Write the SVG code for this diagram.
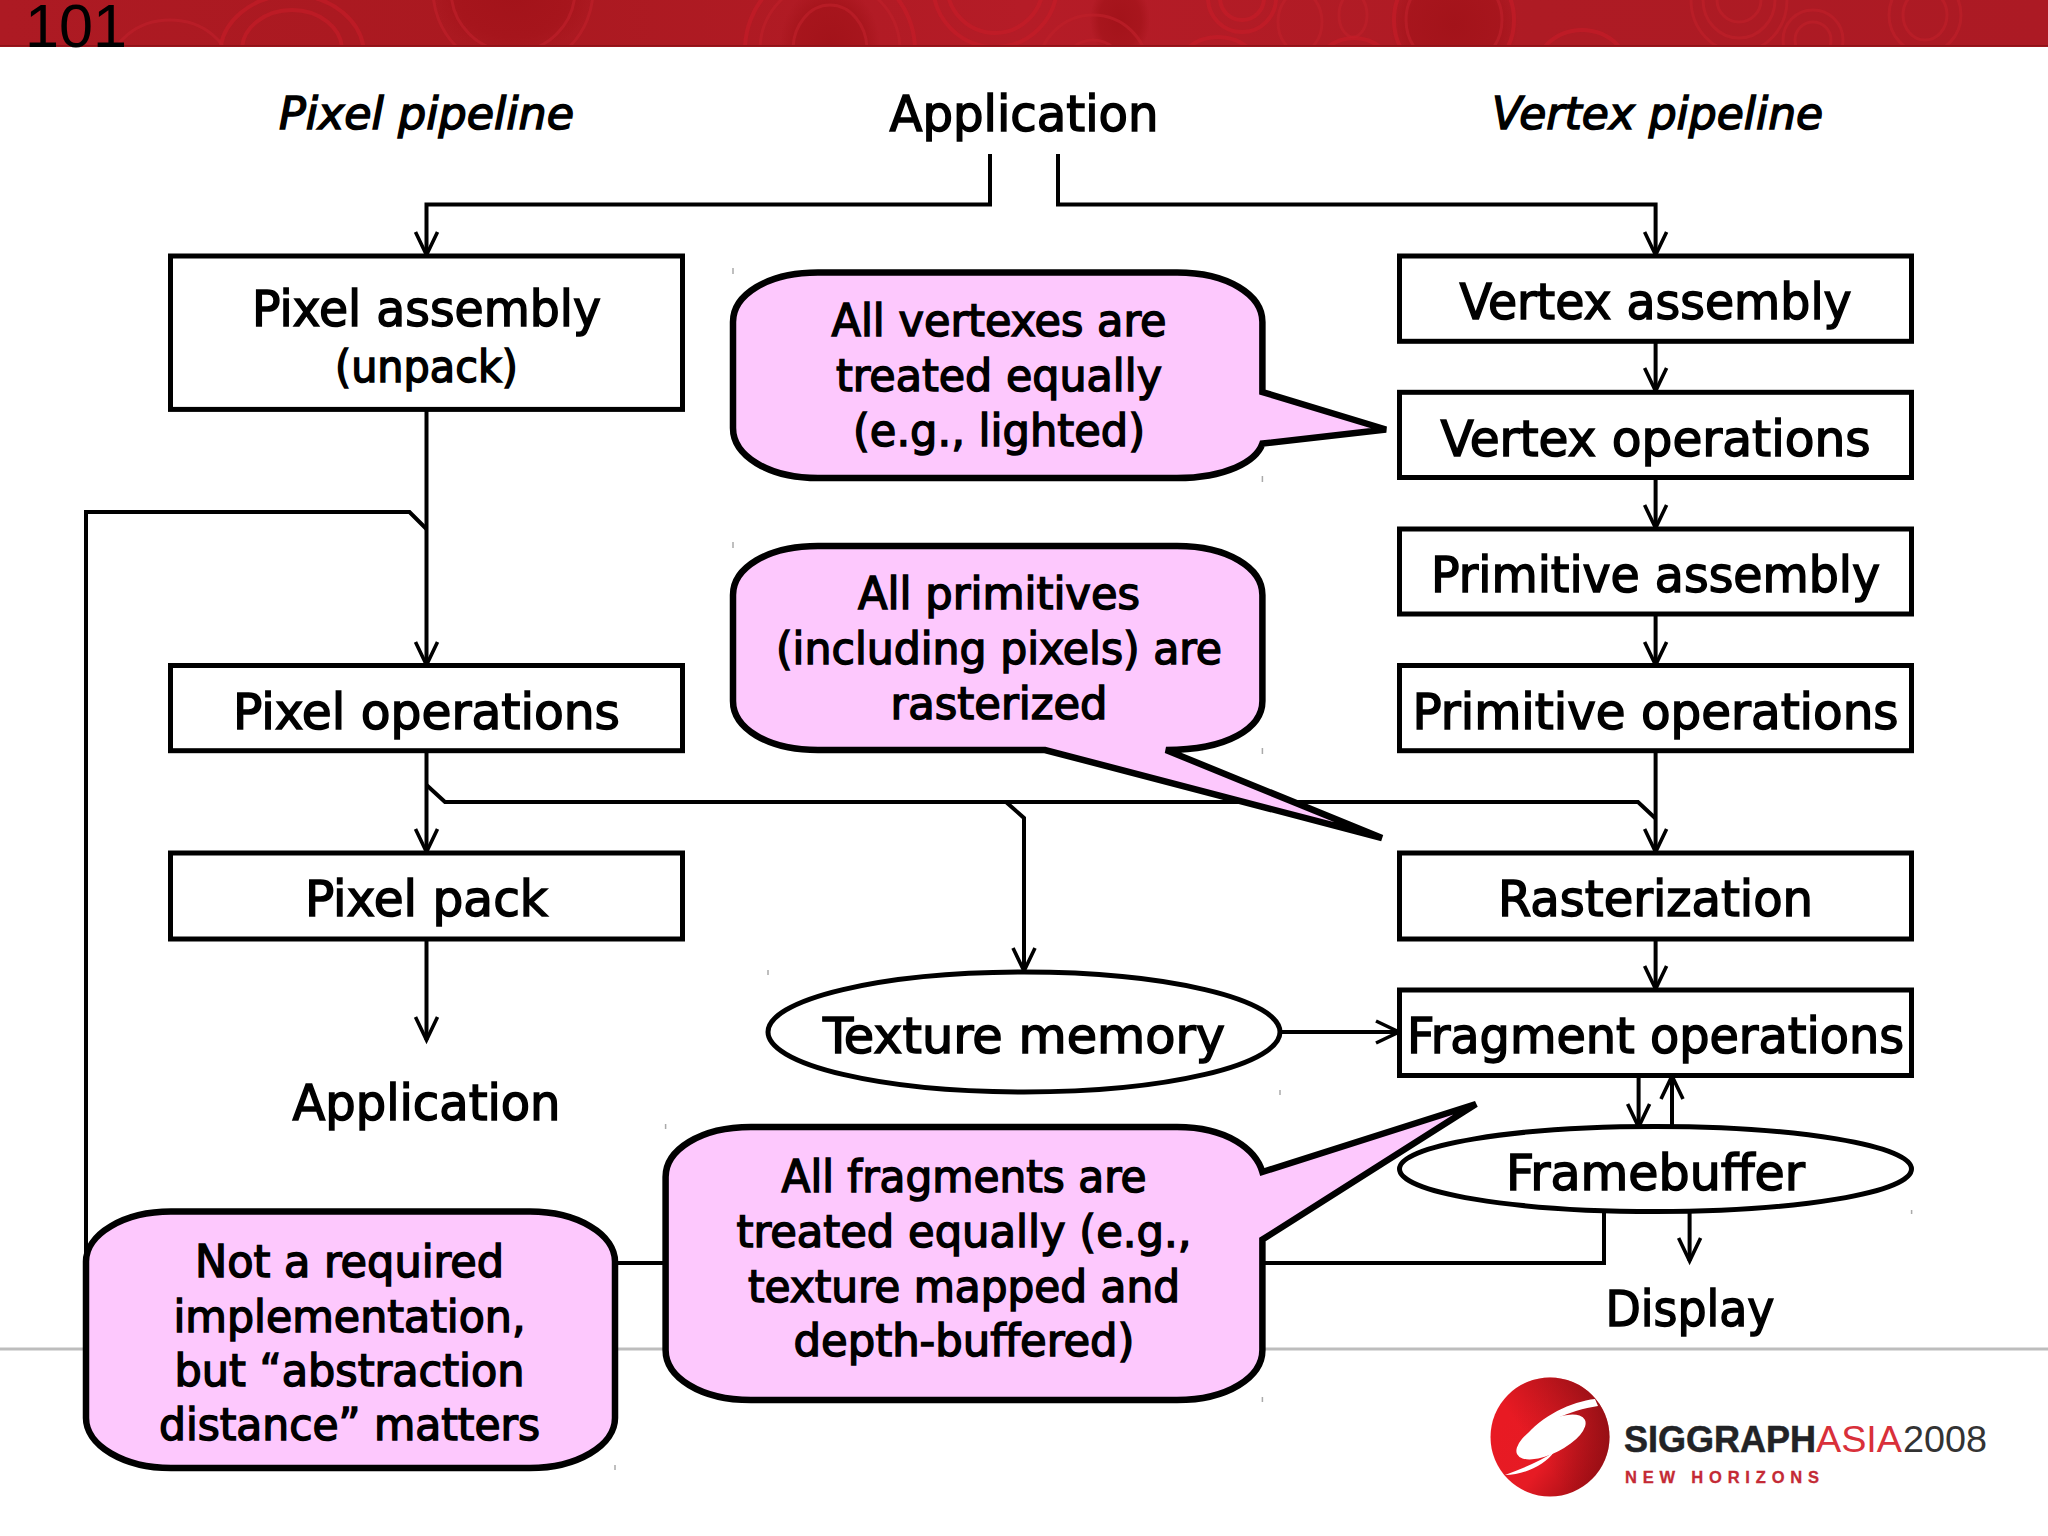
<svg xmlns="http://www.w3.org/2000/svg" width="2048" height="1536" viewBox="0 0 2048 1536">
<style>
text{font-family:"DejaVu Sans Condensed","DejaVu Sans",sans-serif;font-stretch:condensed;fill:#000;stroke:#000;stroke-width:1.4;text-anchor:middle}
.l{font-size:50px}.m{font-size:45px}.i{font-size:45px;font-style:italic}
.box{fill:#fff;stroke:#000;stroke-width:5}
.call{fill:#fdc8fd;stroke:#000;stroke-width:6.5;stroke-linejoin:miter}
.con{fill:none;stroke:#000;stroke-width:4;stroke-linejoin:miter}
.ring{fill:none;stroke:#c81c28;stroke-width:4;opacity:.6}
.ring2{fill:none;stroke:#bd1f29;stroke-width:3;opacity:.7}
.tick{stroke:#aaa;stroke-width:1.5}
.dk{fill:url(#dark)}
</style>
<defs>
<marker id="a" markerUnits="userSpaceOnUse" markerWidth="34" markerHeight="34" refX="26" refY="15" orient="auto"><path d="M3,4 L26,15 L3,26" fill="none" stroke="#000" stroke-width="3.6"/></marker>
<linearGradient id="band" x1="0" x2="1" y1="0" y2="0"><stop offset="0" stop-color="#ad1a23"/><stop offset=".25" stop-color="#aa1920"/><stop offset=".5" stop-color="#b51c27"/><stop offset=".75" stop-color="#ae1b24"/><stop offset="1" stop-color="#ac1a24"/></linearGradient>
<radialGradient id="dark"><stop offset="0" stop-color="#a3131a"/><stop offset=".7" stop-color="#a5141b" stop-opacity=".8"/><stop offset="1" stop-color="#a5141b" stop-opacity="0"/></radialGradient>
<linearGradient id="sph" x1=".15" y1=".3" x2=".85" y2=".85"><stop offset="0" stop-color="#e81a23"/><stop offset=".55" stop-color="#e61b24"/><stop offset="1" stop-color="#a90f16"/></linearGradient>
<linearGradient id="sph2" x1=".3" y1=".5" x2="1" y2="0"><stop offset="0" stop-color="#8f0f15" stop-opacity="0"/><stop offset="1" stop-color="#7a0c10" stop-opacity=".9"/></linearGradient>
<clipPath id="bc"><rect width="2048" height="46"/></clipPath>
</defs>
<g id="header">
<rect width="2048" height="47" fill="url(#band)"/>
<g clip-path="url(#bc)">
<ellipse class="dk" cx="513" cy="-5" rx="80" ry="60"/>
<ellipse class="dk" cx="830" cy="45" rx="50" ry="60"/>
<ellipse class="dk" cx="1454" cy="25" rx="65" ry="65"/>
<ellipse class="dk" cx="1120" cy="20" rx="30" ry="40"/>
<ellipse cx="292" cy="50" rx="50" ry="40" class="ring"/>
<ellipse cx="292" cy="55" rx="72" ry="60" class="ring"/>
<ellipse cx="170" cy="70" rx="60" ry="50" class="ring2"/>
<circle cx="513" cy="-10" r="62" class="ring2"/>
<circle cx="513" cy="-10" r="80" class="ring2"/>
<ellipse cx="830" cy="50" rx="37" ry="45" class="ring2"/>
<ellipse cx="830" cy="50" rx="70" ry="70" class="ring2"/>
<ellipse cx="830" cy="50" rx="85" ry="85" class="ring"/>
<circle cx="995" cy="-15" r="48" class="ring"/>
<circle cx="995" cy="-15" r="62" class="ring"/>
<circle cx="1093" cy="70" r="30" class="ring2"/>
<circle cx="1093" cy="70" r="55" class="ring2"/>
<circle cx="1242" cy="-2" r="22" class="ring"/>
<circle cx="1242" cy="-2" r="34" class="ring"/>
<ellipse cx="1300" cy="22" rx="22" ry="30" class="ring2"/>
<ellipse cx="1353" cy="15" rx="14" ry="22" class="ring2"/>
<circle cx="1218" cy="85" r="48" class="ring"/>
<circle cx="1354" cy="80" r="42" class="ring"/>
<ellipse cx="1454" cy="20" rx="60" ry="60" class="ring"/>
<ellipse cx="1454" cy="20" rx="48" ry="48" class="ring2"/>
<circle cx="1582" cy="80" r="50" class="ring"/>
<ellipse cx="1739" cy="0" rx="22" ry="22" class="ring2"/>
<ellipse cx="1739" cy="0" rx="36" ry="38" class="ring2"/>
<ellipse cx="1739" cy="0" rx="48" ry="52" class="ring2"/>
<circle cx="1813" cy="40" r="18" class="ring2"/>
<circle cx="1813" cy="40" r="30" class="ring2"/>
<ellipse cx="1925" cy="15" rx="22" ry="25" class="ring2"/>
<ellipse cx="1925" cy="15" rx="36" ry="38" class="ring2"/>
</g>
<rect y="45" width="2048" height="1.5" fill="#8e1318"/>
<text x="76" y="47" style="font-family:'Liberation Sans',sans-serif;font-size:62px;stroke:none" textLength="102" lengthAdjust="spacingAndGlyphs">101</text>
</g>
<rect id="rule" x="0" y="1347.5" width="2048" height="3" fill="#bdbdbd"/>
<g id="connectors">
<path class="con" marker-end="url(#a)" d="M990,154 V204.5 H426.5 V255"/>
<path class="con" marker-end="url(#a)" d="M1058,154 V204.5 H1655.6 V255"/>
<path class="con" marker-end="url(#a)" d="M426.5,409 V665"/>
<path class="con" d="M1604,1208 V1263 H86 V512 H409.5 L426.5,529"/>
<path class="con" marker-end="url(#a)" d="M426.5,751 V852"/>
<path class="con" d="M426.5,785 L445,802 H1638 L1655.6,818.5"/>
<path class="con" marker-end="url(#a)" d="M1006,802 L1024,818 V971"/>
<path class="con" marker-end="url(#a)" d="M426.5,939 V1040"/>
<path class="con" marker-end="url(#a)" d="M1655.6,341 V391"/>
<path class="con" marker-end="url(#a)" d="M1655.6,477 V528"/>
<path class="con" marker-end="url(#a)" d="M1655.6,614 V665"/>
<path class="con" marker-end="url(#a)" d="M1655.6,751 V852"/>
<path class="con" marker-end="url(#a)" d="M1655.6,939 V989"/>
<path class="con" marker-end="url(#a)" d="M1280,1032 H1399"/>
<path class="con" marker-end="url(#a)" d="M1638.6,1075 V1127"/>
<path class="con" marker-end="url(#a)" d="M1672,1127 V1076"/>
<path class="con" marker-end="url(#a)" d="M1689.6,1212 V1261"/>
</g>
<g id="pixel-pipeline-label"><text class="i" x="426.5" y="129" textLength="295" lengthAdjust="spacingAndGlyphs">Pixel pipeline</text></g>
<g id="application-top"><text class="l" x="1024" y="131" textLength="269" lengthAdjust="spacingAndGlyphs">Application</text></g>
<g id="vertex-pipeline-label"><text class="i" x="1657.6" y="129" textLength="331" lengthAdjust="spacingAndGlyphs">Vertex pipeline</text></g>
<g id="pixel-assembly"><rect class="box" x="170.5" y="256" width="512" height="153.4"/><text class="l" x="426.5" y="326" textLength="349" lengthAdjust="spacingAndGlyphs">Pixel assembly</text><text class="m" x="426.5" y="382" textLength="183" lengthAdjust="spacingAndGlyphs">(unpack)</text></g>
<g id="pixel-operations"><rect class="box" x="170.5" y="665.5" width="512" height="85.2"/><text class="l" x="426.5" y="729" textLength="387" lengthAdjust="spacingAndGlyphs">Pixel operations</text></g>
<g id="pixel-pack"><rect class="box" x="170.5" y="853" width="512" height="86"/><text class="l" x="426.5" y="916" textLength="243" lengthAdjust="spacingAndGlyphs">Pixel pack</text></g>
<g id="application-bottom"><text class="l" x="426.5" y="1119.5" textLength="268" lengthAdjust="spacingAndGlyphs">Application</text></g>
<g id="vertex-assembly"><rect class="box" x="1399.5" y="256" width="512" height="85.3"/><text class="l" x="1655.6" y="318.5" textLength="392" lengthAdjust="spacingAndGlyphs">Vertex assembly</text></g>
<g id="vertex-operations"><rect class="box" x="1399.5" y="392.3" width="512" height="85.2"/><text class="l" x="1655.6" y="455.6" textLength="430" lengthAdjust="spacingAndGlyphs">Vertex operations</text></g>
<g id="primitive-assembly"><rect class="box" x="1399.5" y="529" width="512" height="85"/><text class="l" x="1655.6" y="592" textLength="449" lengthAdjust="spacingAndGlyphs">Primitive assembly</text></g>
<g id="primitive-operations"><rect class="box" x="1399.5" y="665.5" width="512" height="85.2"/><text class="l" x="1655.6" y="729" textLength="486" lengthAdjust="spacingAndGlyphs">Primitive operations</text></g>
<g id="rasterization"><rect class="box" x="1399.5" y="853" width="512" height="86"/><text class="l" x="1655.6" y="916" textLength="315" lengthAdjust="spacingAndGlyphs">Rasterization</text></g>
<g id="fragment-operations"><rect class="box" x="1399.5" y="990" width="512" height="85.5"/><text class="l" x="1655.6" y="1053" textLength="497" lengthAdjust="spacingAndGlyphs">Fragment operations</text></g>
<g id="texture-memory"><ellipse class="box" cx="1024" cy="1032" rx="256" ry="60"/><text class="l" x="1024" y="1053" textLength="402" lengthAdjust="spacingAndGlyphs">Texture memory</text></g>
<g id="framebuffer"><ellipse class="box" cx="1655.5" cy="1169" rx="256" ry="42.6"/><text class="l" x="1655.5" y="1189.5" textLength="299" lengthAdjust="spacingAndGlyphs">Framebuffer</text></g>
<g id="display"><text class="l" x="1690" y="1325.5" textLength="169" lengthAdjust="spacingAndGlyphs">Display</text></g>
<g id="callout-vertexes">
<path class="call" d="M818,272.5 H1177 C1228,272.5 1262.4,295 1262.4,322 V392 L1386,429.5 L1262.4,443.6 C1256,462 1225,478 1177,478 H818 C767,478 733,455 733,428 V322 C733,295 767,272.5 818,272.5 Z"/>
<text class="m" x="999" y="336" textLength="335" lengthAdjust="spacingAndGlyphs">All vertexes are</text><text class="m" x="999" y="391" textLength="326" lengthAdjust="spacingAndGlyphs">treated equally</text><text class="m" x="999" y="446" textLength="292" lengthAdjust="spacingAndGlyphs">(e.g., lighted)</text></g>
<g id="callout-primitives">
<path class="call" d="M818,546 H1177 C1228,546 1262.4,568 1262.4,595 V701 C1262.4,728 1228,750 1166,750 L1382,838 L1045,750 H818 C767,750 733,728 733,701 V595 C733,568 767,546 818,546 Z"/>
<text class="m" x="999" y="609" textLength="282" lengthAdjust="spacingAndGlyphs">All primitives</text><text class="m" x="999" y="664" textLength="446" lengthAdjust="spacingAndGlyphs">(including pixels) are</text><text class="m" x="999" y="718.5" textLength="217" lengthAdjust="spacingAndGlyphs">rasterized</text></g>
<g id="callout-fragments">
<path class="call" d="M751,1127 H1177 C1228,1127 1256,1150 1262.4,1172 L1476,1104 L1262.4,1239.6 V1350 C1262.4,1377 1228,1400 1177,1400 H751 C700,1400 665.6,1377 665.6,1350 V1177 C665.6,1150 700,1127 751,1127 Z"/>
<text class="m" x="964" y="1192" textLength="365" lengthAdjust="spacingAndGlyphs">All fragments are</text><text class="m" x="964" y="1247" textLength="455" lengthAdjust="spacingAndGlyphs">treated equally (e.g.,</text><text class="m" x="964" y="1301.5" textLength="432" lengthAdjust="spacingAndGlyphs">texture mapped and</text><text class="m" x="964" y="1356" textLength="341" lengthAdjust="spacingAndGlyphs">depth-buffered)</text></g>
<g id="callout-abstraction">
<rect class="call" x="86" y="1211.6" width="529" height="256.4" rx="85" ry="50"/>
<text class="m" x="349.5" y="1277" textLength="309" lengthAdjust="spacingAndGlyphs">Not a required</text><text class="m" x="349.5" y="1331.5" textLength="352" lengthAdjust="spacingAndGlyphs">implementation,</text><text class="m" x="349.5" y="1386" textLength="350" lengthAdjust="spacingAndGlyphs">but “abstraction</text><text class="m" x="349.5" y="1440" textLength="381" lengthAdjust="spacingAndGlyphs">distance” matters</text></g>
<g id="ticks"><path class="tick" d="M733,268V274M1262.4,476V482M733,542V548M1262.4,748V754M768,970V975M1280,1090V1095M665.6,1124V1129M1262.4,1397V1402M615,1465V1470M1911.6,1210V1214"/></g>
<g id="logo">
<circle cx="1550" cy="1437" r="59.5" fill="url(#sph)"/>
<circle cx="1550" cy="1437" r="59.5" fill="url(#sph2)"/>
<ellipse cx="1551" cy="1437" rx="38" ry="16" transform="rotate(-27 1551 1437)" fill="#fff"/>
<path d="M1595,1399 C1568,1402 1532,1420 1517,1449 C1534,1427 1565,1411 1598,1406 Z" fill="#fff"/>
<path d="M1505,1475 C1525,1475 1546,1464 1554,1452 C1540,1461 1522,1469 1505,1475 Z" fill="#fff"/>
<text x="1720" y="1452" style="font-family:'Liberation Sans',sans-serif;font-size:36.5px;font-weight:bold;fill:#222326;stroke:#222326;stroke-width:.5" textLength="192" lengthAdjust="spacingAndGlyphs">SIGGRAPH</text>
<text x="1859" y="1452" style="font-family:'Liberation Sans',sans-serif;font-size:36.5px;fill:#d9303a;stroke:none" textLength="86" lengthAdjust="spacingAndGlyphs">ASIA</text>
<text x="1945" y="1452" style="font-family:'Liberation Sans',sans-serif;font-size:36.5px;fill:#333;stroke:none" textLength="84" lengthAdjust="spacingAndGlyphs">2008</text>
<text x="1722" y="1483" style="font-family:'Liberation Sans',sans-serif;font-size:16.5px;font-weight:bold;fill:#c42a35;stroke:#c42a35;stroke-width:.3" textLength="194" lengthAdjust="spacing">NEW HORIZONS</text>
</g>
</svg>
